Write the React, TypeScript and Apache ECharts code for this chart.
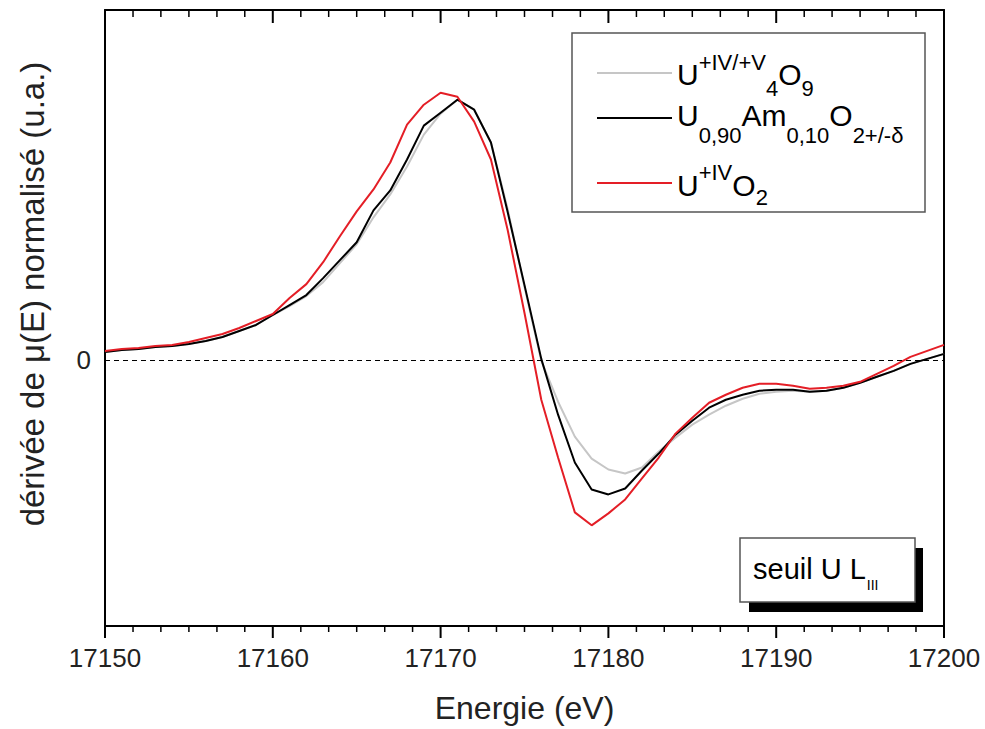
import React, { useEffect, useRef } from 'react';
import * as echarts from 'echarts';

const energy = [
  17150, 17151, 17152, 17153, 17154, 17155, 17156, 17157, 17158, 17159, 17160,
  17161, 17162, 17163, 17164, 17165, 17166, 17167, 17168, 17169, 17170,
  17171, 17172, 17173, 17174, 17175, 17176, 17177, 17178, 17179, 17180,
  17181, 17182, 17183, 17184, 17185, 17186, 17187, 17188, 17189, 17190,
  17191, 17192, 17193, 17194, 17195, 17196, 17197, 17198, 17199, 17200,
];

const u4o9 = [
  0.08, 0.1, 0.11, 0.13, 0.14, 0.16, 0.19, 0.23, 0.29, 0.35, 0.45,
  0.54, 0.64, 0.78, 0.97, 1.16, 1.43, 1.66, 1.94, 2.26, 2.47,
  2.61, 2.51, 2.18, 1.51, 0.73, -0.01, -0.42, -0.77, -0.99, -1.1,
  -1.14, -1.08, -0.92, -0.78, -0.65, -0.55, -0.46, -0.39, -0.34, -0.32,
  -0.31, -0.32, -0.31, -0.28, -0.23, -0.17, -0.11, -0.04, 0.01, 0.06,
];

const uam = [
  0.08, 0.1, 0.11, 0.13, 0.14, 0.16, 0.19, 0.23, 0.29, 0.35, 0.45,
  0.55, 0.65, 0.82, 1.0, 1.18, 1.5, 1.7, 2.01, 2.35, 2.48,
  2.61, 2.51, 2.18, 1.48, 0.75, 0.01, -0.55, -1.03, -1.3, -1.35,
  -1.29, -1.11, -0.94, -0.75, -0.61, -0.48, -0.4, -0.35, -0.31, -0.3,
  -0.3, -0.32, -0.31, -0.28, -0.23, -0.17, -0.11, -0.04, 0.01, 0.06,
];

const uo2 = [
  0.09, 0.11, 0.12, 0.14, 0.15, 0.18, 0.22, 0.26, 0.32, 0.39, 0.46,
  0.62, 0.76, 0.98, 1.24, 1.49, 1.71, 1.98, 2.36, 2.56, 2.68,
  2.64, 2.39, 2.01, 1.3, 0.47, -0.4, -0.98, -1.53, -1.66, -1.54,
  -1.4, -1.19, -0.98, -0.74, -0.58, -0.43, -0.35, -0.28, -0.24, -0.24,
  -0.26, -0.29, -0.28, -0.26, -0.22, -0.14, -0.06, 0.03, 0.09, 0.15,
];

const majorTicks = [17150, 17160, 17170, 17180, 17190, 17200];
const minorTicks = [
  17151.67, 17153.33, 17155, 17156.67, 17158.33,
  17161.67, 17163.33, 17165, 17166.67, 17168.33,
  17171.67, 17173.33, 17175, 17176.67, 17178.33,
  17181.67, 17183.33, 17185, 17186.67, 17188.33,
  17191.67, 17193.33, 17195, 17196.67, 17198.33,
];

const yMin = -2.67;
const yMax = 3.51;

const seriesNames = ['U4O9', 'U0.90Am0.10O2', 'UO2'];
const seriesColors = ['#c6c6c6', '#000000', '#e41e26'];
const seriesData = [u4o9, uam, uo2];

const legendLabels: Record<string, string> = {
  U4O9: '{b|U}{sup1|+IV/+V}{s1|4}{b|O}{s1|9}',
  'U0.90Am0.10O2': '{b2|U}{s2|0,90}{b2|Am}{s2|0,10}{b2|O}{s2|2+/-δ}',
  UO2: '{b3|U}{sup3|+IV}{b3|O}{s3|2}',
};

const FONT = '"Liberation Sans", Arial, sans-serif';

export default function App() {
  const ref = useRef<HTMLDivElement>(null);

  useEffect(() => {
    const chart = echarts.init(ref.current!, null, { renderer: 'svg' });

    const tok = (fs: number, pad: number, lh: number) => ({
      fontSize: fs,
      fontFamily: FONT,
      color: '#000',
      verticalAlign: 'top',
      lineHeight: lh,
      padding: [pad, 0, 0, 0],
    });

    const rich = {
      b: tok(30, 12, 52),
      sup1: tok(22, 4, 52),
      s1: tok(22, 30, 52),
      b2: tok(30, 12, 59),
      s2: tok(22, 36, 59),
      b3: tok(30, 12, 50),
      sup3: tok(22, 3, 50),
      s3: tok(22, 28, 50),
    };

    const legendTops = [47, 88.5, 158];

    const legends = seriesNames.map((name, i) => ({
      data: [name],
      left: 597,
      top: legendTops[i],
      orient: 'vertical',
      padding: 0,
      icon: 'rect',
      itemWidth: 75,
      itemHeight: 2,
      itemGap: 0,
      selectedMode: false,
      formatter: (n: string) => legendLabels[n],
      textStyle: { color: '#000', fontFamily: FONT, rich },
    }));

    const axisLineStyle = { color: '#000', width: 2 };
    const plainNum = (v: number) => String(v);

    const lineSeries = seriesNames.map((name, i) => ({
      name,
      type: 'line',
      xAxisIndex: 0,
      yAxisIndex: 0,
      symbol: 'none',
      showSymbol: false,
      color: seriesColors[i],
      itemStyle: { color: seriesColors[i] },
      lineStyle: { color: seriesColors[i], width: 2 },
      data: energy.map((e, k) => [e, seriesData[i][k]]),
      z: 2 + i,
      markLine:
        i === 0
          ? {
              silent: true,
              symbol: 'none',
              label: { show: false },
              lineStyle: { type: [5, 4], color: '#000', width: 1 },
              data: [{ yAxis: 0 }],
            }
          : undefined,
    }));

    chart.setOption({
      animation: false,
      backgroundColor: '#fff',
      grid: { left: 105, right: 41, top: 10, bottom: 101 },
      legend: legends,
      xAxis: [
        {
          type: 'value',
          position: 'bottom',
          min: 17150,
          max: 17200,
          interval: 10,
          axisLine: { show: true, onZero: false, lineStyle: axisLineStyle },
          axisTick: { show: false },
          minorTick: { show: false },
          axisLabel: { fontSize: 26, color: '#222', fontFamily: FONT, margin: 19, formatter: plainNum },
          splitLine: { show: false },
          minorSplitLine: { show: false },
          name: 'Energie (eV)',
          nameLocation: 'middle',
          nameGap: 66,
          nameTextStyle: { fontSize: 32, color: '#222', fontFamily: FONT },
        },
        {
          type: 'value',
          position: 'top',
          min: 17150,
          max: 17200,
          interval: 10,
          axisLine: { show: true, onZero: false, lineStyle: axisLineStyle },
          axisTick: { show: false },
          minorTick: { show: false },
          axisLabel: { show: false },
          splitLine: { show: false },
        },
      ],
      yAxis: [
        {
          type: 'value',
          position: 'left',
          min: yMin,
          max: yMax,
          axisLine: { show: true, lineStyle: axisLineStyle },
          axisTick: { show: false },
          axisLabel: {
            customValues: [0],
            fontSize: 26,
            color: '#222',
            fontFamily: FONT,
            margin: 14,
            formatter: plainNum,
          },
          splitLine: { show: false },
          name: 'dérivée de μ(E) normalisé (u.a.)',
          nameLocation: 'middle',
          nameGap: 56,
          nameTextStyle: { fontSize: 33, color: '#222', fontFamily: FONT, padding: [0, 0, 0, 48] },
        },
        {
          type: 'value',
          position: 'right',
          min: yMin,
          max: yMax,
          axisLine: { show: true, lineStyle: axisLineStyle },
          axisTick: { show: false },
          axisLabel: { show: false },
          splitLine: { show: false },
        },
      ],
      series: lineSeries,
    });

    // Tick marks placed through the chart's own x scale.
    const yBottom = chart.convertToPixel({ yAxisIndex: 0 }, yMin) as number;
    const yTop = chart.convertToPixel({ yAxisIndex: 0 }, yMax) as number;
    const tickRects: any[] = [];
    const addTick = (v: number, major: boolean) => {
      const x = chart.convertToPixel({ xAxisIndex: 0 }, v) as number;
      const w = major ? 2 : 1.5;
      tickRects.push({
        type: 'rect',
        shape: { x: x - w / 2, y: yBottom, width: w, height: major ? 12 : 6 },
        style: { fill: '#000' },
        z: 30,
        silent: true,
      });
      tickRects.push({
        type: 'rect',
        shape: { x: x - w / 2, y: yTop, width: w, height: major ? 13 : 7 },
        style: { fill: '#000' },
        z: 30,
        silent: true,
      });
    };
    majorTicks.forEach((v) => addTick(v, true));
    minorTicks.forEach((v) => addTick(v, false));

    chart.setOption({
      graphic: [
        {
          type: 'rect',
          shape: { x: 572, y: 33, width: 353, height: 179 },
          style: { fill: '#fff', stroke: '#555', lineWidth: 1.5 },
          z: 1,
        },
        {
          type: 'rect',
          shape: { x: 749, y: 548, width: 174, height: 64 },
          style: { fill: '#000' },
          z: 20,
        },
        {
          type: 'rect',
          shape: { x: 740, y: 538, width: 175, height: 64 },
          style: { fill: '#fff', stroke: '#555', lineWidth: 1.5 },
          z: 21,
        },
        {
          type: 'text',
          x: 753,
          y: 554,
          z: 22,
          style: {
            text: '{b|seuil U L}{s|III}',
            fill: '#000',
            rich: {
              b: { fontSize: 29, fontFamily: FONT, fill: '#000', verticalAlign: 'top', lineHeight: 40, padding: [0, 0, 0, 0] },
              s: { fontSize: 14, fontFamily: FONT, fill: '#000', verticalAlign: 'top', lineHeight: 40, padding: [24, 0, 0, 1] },
            },
          },
        },
        ...tickRects,
      ],
    });

    return () => chart.dispose();
  }, []);

  return (
    <div
      ref={ref}
      style={{ position: 'absolute', left: 0, top: 0, width: 985, height: 729 }}
    />
  );
}
